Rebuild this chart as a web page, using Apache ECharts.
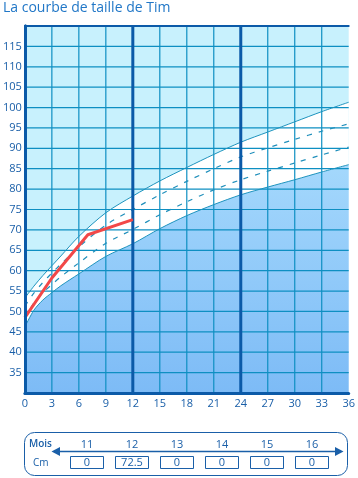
<!DOCTYPE html>
<html><head><meta charset="utf-8">
<script src="https://cdn.jsdelivr.net/npm/echarts@6/dist/echarts.min.js"></script>
<style>html,body{margin:0;padding:0;background:#fff}#c{width:358px;height:478px}</style>
</head><body><div id="c"></div>
<script>
const months      = [0, 1, 2, 3, 4, 6, 9, 12, 15, 18, 21, 24, 27, 30, 33, 36];
const upperCurve  = [53.3, 56.2, 58.8, 61.2, 63.6, 68.4, 74.2, 78.3, 82.0, 85.3, 88.5, 91.5, 94.0, 96.5, 99.0, 101.3];
const upperDashed = [51.3, 54.5, 57.1, 59.4, 61.6, 65.8, 71.2, 75.0, 78.6, 81.9, 85.0, 87.9, 90.1, 92.2, 94.2, 96.0];
const lowerDashed = [48.3, 52.1, 54.6, 56.6, 58.5, 61.9, 66.7, 70.1, 73.7, 76.9, 79.8, 82.3, 84.4, 86.4, 88.4, 90.3];
const lowerCurve  = [46.2, 50.3, 52.8, 54.6, 56.3, 59.2, 63.5, 66.6, 70.3, 73.5, 76.2, 78.6, 80.5, 82.3, 84.2, 86.0];
const timMonths   = [0, 3, 7, 12];
const timHeights  = [48.5, 58.2, 68.8, 72.5];
const yearMarks   = [12, 24];
const tableMonths = [11, 12, 13, 14, 15, 16];
const tableValues = ['0', '72.5', '0', '0', '0', '0'];

const X_MIN = 0, X_MAX = 36, X_STEP = 3;
const Y_MIN = 30, Y_MAX = 120, Y_STEP = 5;

const pair = (xs, ys) => xs.map((x, i) => [x, ys[i]]);
const DARK = '#0b5aa8', GRID = '#0e8fc2', TXT = '#1a5fa8';
const FONT = '"Open Sans", sans-serif';

const gridSeries = [];
for (let m = X_MIN + X_STEP; m < X_MAX; m += X_STEP) {
  const thick = yearMarks.includes(m);
  gridSeries.push({type: 'line', data: [[m, Y_MIN], [m, Y_MAX]], symbol: 'none', zlevel: 1, z: thick ? 6 : 3,
    lineStyle: {color: thick ? DARK : GRID, width: thick ? 3 : 1.2}, tooltip: {show: false}});
}
for (let v = Y_MIN + Y_STEP; v < Y_MAX; v += Y_STEP) {
  gridSeries.push({type: 'line', data: [[X_MIN, v], [X_MAX, v]], symbol: 'none', zlevel: 1, z: 3,
    lineStyle: {color: GRID, width: 1.2}, tooltip: {show: false}});
}

const chart = echarts.init(document.getElementById('c'));

const graphics = [];
graphics.push({type: 'text', left: 3, top: 1, style: {text: 'La courbe de taille de Tim', fill: '#2177c7', font: '500 14px ' + FONT}});
graphics.push({type: 'rect', shape: {x: 24.5, y: 432.5, width: 323, height: 43, r: 10}, style: {fill: 'none', stroke: TXT, lineWidth: 1}});
graphics.push({type: 'text', style: {text: 'Mois', x: 29, y: 444, fill: TXT, font: '600 10px ' + FONT, textVerticalAlign: 'middle', backgroundColor: '#fff'}});
graphics.push({type: 'text', style: {text: 'Cm', x: 33, y: 463, fill: TXT, font: '10px ' + FONT, textVerticalAlign: 'middle'}});
graphics.push({type: 'line', shape: {x1: 58, y1: 451.5, x2: 336, y2: 451.5}, style: {stroke: TXT, lineWidth: 1.5}});
graphics.push({type: 'polygon', shape: {points: [[51.5, 451.5], [60, 447], [60, 456]]}, style: {fill: TXT}});
graphics.push({type: 'polygon', shape: {points: [[343.5, 451.5], [335, 447], [335, 456]]}, style: {fill: TXT}});
tableMonths.forEach((m, i) => {
  const cx = 87 + i * 45;
  graphics.push({type: 'text', style: {text: String(m), x: cx, y: 445, fill: TXT, font: '11px ' + FONT, textAlign: 'center', textVerticalAlign: 'middle'}});
  graphics.push({type: 'rect', shape: {x: cx - 16.5, y: 456.5, width: 33, height: 12}, style: {fill: '#fff', stroke: TXT, lineWidth: 1}});
  graphics.push({type: 'text', style: {text: tableValues[i], x: cx, y: 462.5, fill: TXT, font: '11px ' + FONT, textAlign: 'center', textVerticalAlign: 'middle'}});
});

const dashStyle = {color: '#1f8fbb', width: 1.2, type: [5, 7]};
const curveStyle = {color: '#1e93bd', width: 1};

chart.setOption({
  animation: false,
  grid: {left: 24, right: 8, top: 26, bottom: 85, show: true, backgroundColor: '#c8f1fd', borderWidth: 0},
  xAxis: [{
    type: 'value', min: X_MIN, max: X_MAX, interval: X_STEP, zlevel: 2,
    axisLine: {show: true, onZero: false, lineStyle: {color: DARK, width: 3}},
    axisTick: {show: false},
    axisLabel: {color: TXT, fontSize: 11, fontFamily: FONT, margin: 5},
    splitLine: {show: false}
  }, {
    type: 'value', position: 'top', min: X_MIN, max: X_MAX, zlevel: 2,
    axisLine: {show: true, lineStyle: {color: DARK, width: 2}},
    axisTick: {show: false}, axisLabel: {show: false}, splitLine: {show: false}
  }],
  yAxis: [{
    type: 'value', min: Y_MIN, max: Y_MAX, interval: Y_STEP, zlevel: 2,
    axisLine: {show: true, onZero: false, lineStyle: {color: DARK, width: 3}},
    axisTick: {show: false},
    axisLabel: {color: TXT, fontSize: 11, fontFamily: FONT, margin: 3,
      formatter: v => (v === Y_MIN || v === Y_MAX) ? '' : String(v)},
    splitLine: {show: false}
  }, {
    type: 'value', position: 'right', min: Y_MIN, max: Y_MAX, zlevel: 2,
    axisLine: {show: true, lineStyle: {color: DARK, width: 3}},
    axisTick: {show: false}, axisLabel: {show: false}, splitLine: {show: false}
  }],
  series: [
    {type: 'line', data: pair(months, upperCurve), smooth: 0.3, symbol: 'none', zlevel: 0, z: 0,
     lineStyle: {width: 0, opacity: 0}, areaStyle: {color: '#ffffff', origin: 'start', opacity: 1}},
    {type: 'line', data: pair(months, lowerCurve), smooth: 0.3, symbol: 'none', zlevel: 0, z: 1,
     lineStyle: {width: 0, opacity: 0},
     areaStyle: {origin: 'start', opacity: 1, color: new echarts.graphic.LinearGradient(0, 0, 0, 1, [
       {offset: 0, color: '#a4d8fc'}, {offset: 1, color: '#7dbbf6'}])}},
    ...gridSeries,
    {type: 'line', data: pair(months, upperDashed), smooth: 0.3, symbol: 'none', zlevel: 1, z: 4, lineStyle: dashStyle},
    {type: 'line', data: pair(months, lowerDashed), smooth: 0.3, symbol: 'none', zlevel: 1, z: 4, lineStyle: dashStyle},
    {type: 'line', data: pair(months, upperCurve), smooth: 0.3, symbol: 'none', zlevel: 1, z: 4, lineStyle: curveStyle},
    {type: 'line', data: pair(months, lowerCurve), smooth: 0.3, symbol: 'none', zlevel: 1, z: 4, lineStyle: curveStyle},
    {type: 'line', data: pair(timMonths, timHeights), symbol: 'none', zlevel: 1, z: 8,
     lineStyle: {color: '#f24848', width: 3}}
  ],
  graphic: graphics
});
</script></body></html>
